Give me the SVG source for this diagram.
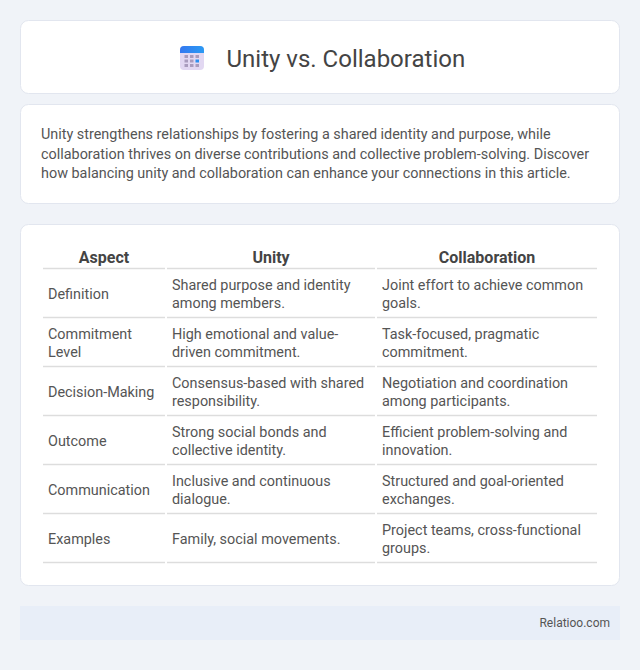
<svg xmlns="http://www.w3.org/2000/svg" width="640" height="670" viewBox="0 0 640 670">
<defs>
<style>
text{font-family:Roboto,"Liberation Sans",sans-serif;fill:#444}
.c{font-size:14.4px;fill:#555}
.h{font-size:16px;font-weight:700;text-anchor:middle}
.p{font-size:14.4px;fill:#555}
.card{fill:#fff;stroke:#e2e6ef;stroke-width:1}
.l{stroke:#ddd;stroke-width:1.5;fill:none}
</style>
<linearGradient id="top" x1="0" y1="0" x2="1" y2="0"><stop offset="0" stop-color="#3478f0"/><stop offset="1" stop-color="#2b9af3"/></linearGradient>
</defs>
<rect width="640" height="670" fill="#f0f3f8"/>
<g id="title">
<rect class="card" x="20.500" y="20.500" width="599" height="73" rx="8"/>
<rect x="180" y="46" width="24" height="24" rx="4" fill="#e2d8f2"/>
<path d="M180 53v-3a4 4 0 0 1 4-4h16a4 4 0 0 1 4 4v3z" fill="url(#top)"/>
<g fill="#a99cbd"><rect x="184.500" y="55" width="3.500" height="3"/><rect x="190" y="55" width="3.500" height="3"/><rect x="195.500" y="55" width="3.500" height="3"/><rect x="184.500" y="59.500" width="3.500" height="3"/><rect x="190" y="59.500" width="3.500" height="3"/><rect x="184.500" y="64" width="3.500" height="3"/><rect x="190" y="64" width="3.500" height="3"/><rect x="195.500" y="64" width="3.500" height="3"/></g>
<rect x="195.500" y="59.500" width="3.500" height="3" fill="#2b8ff0"/>
<text x="226.500" y="67" font-size="24">Unity vs. Collaboration</text>
</g>
<g id="intro">
<rect class="card" x="20.500" y="104.500" width="599" height="99" rx="8"/>
<text class="p" x="41" y="139">Unity strengthens relationships by fostering a shared identity and purpose, while</text>
<text class="p" x="41" y="158.500">collaboration thrives on diverse contributions and collective problem-solving. Discover</text>
<text class="p" x="41" y="178">how balancing unity and collaboration can enhance your connections in this article.</text>
</g>
<g id="table">
<rect class="card" x="20.500" y="224.500" width="599" height="361" rx="8"/>
<text class="h" x="104" y="263">Aspect</text><text class="h" x="271" y="263">Unity</text><text class="h" x="487" y="263">Collaboration</text>
<g class="l">
<path d="M43 268.500H165M167 268.500H375M377 268.500H597"/>
<path d="M43 317.500H165M167 317.500H375M377 317.500H597"/>
<path d="M43 366.500H165M167 366.500H375M377 366.500H597"/>
<path d="M43 415.500H165M167 415.500H375M377 415.500H597"/>
<path d="M43 464.500H165M167 464.500H375M377 464.500H597"/>
<path d="M43 513.500H165M167 513.500H375M377 513.500H597"/>
<path d="M43 562.500H165M167 562.500H375M377 562.500H597"/>
</g>
<text class="c" x="48" y="299">Definition</text>
<text class="c" x="172" y="290">Shared purpose and identity</text><text class="c" x="172" y="308">among members.</text>
<text class="c" x="382" y="290">Joint effort to achieve common</text><text class="c" x="382" y="308">goals.</text>
<text class="c" x="48" y="339">Commitment</text><text class="c" x="48" y="357">Level</text>
<text class="c" x="172" y="339">High emotional and value-</text><text class="c" x="172" y="357">driven commitment.</text>
<text class="c" x="382" y="339">Task-focused, pragmatic</text><text class="c" x="382" y="357">commitment.</text>
<text class="c" x="48" y="397">Decision-Making</text>
<text class="c" x="172" y="388">Consensus-based with shared</text><text class="c" x="172" y="406">responsibility.</text>
<text class="c" x="382" y="388">Negotiation and coordination</text><text class="c" x="382" y="406">among participants.</text>
<text class="c" x="48" y="446">Outcome</text>
<text class="c" x="172" y="437">Strong social bonds and</text><text class="c" x="172" y="455">collective identity.</text>
<text class="c" x="382" y="437">Efficient problem-solving and</text><text class="c" x="382" y="455">innovation.</text>
<text class="c" x="48" y="495">Communication</text>
<text class="c" x="172" y="486">Inclusive and continuous</text><text class="c" x="172" y="504">dialogue.</text>
<text class="c" x="382" y="486">Structured and goal-oriented</text><text class="c" x="382" y="504">exchanges.</text>
<text class="c" x="48" y="544">Examples</text>
<text class="c" x="172" y="544">Family, social movements.</text>
<text class="c" x="382" y="535">Project teams, cross-functional</text><text class="c" x="382" y="553">groups.</text>
</g>
<g id="footer">
<rect x="20" y="606" width="600" height="34" fill="#e8eef8"/>
<text x="610" y="627" font-size="12" text-anchor="end" style="fill:#555">Relatioo.com</text>
</g>
</svg>
